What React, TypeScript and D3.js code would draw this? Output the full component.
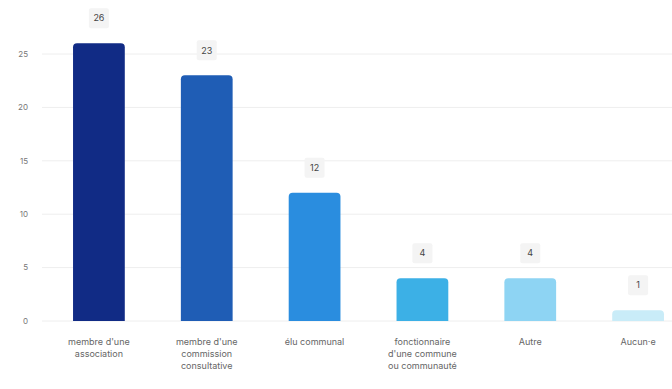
import React from "react";
import * as d3 from "d3";

const categories: string[][] = [
  ["membre d'une", "association"],
  ["membre d'une", "commission", "consultative"],
  ["élu communal"],
  ["fonctionnaire", "d'une commune", "ou communauté"],
  ["Autre"],
  ["Aucun·e"],
];
const values: number[] = [26, 23, 12, 4, 4, 1];
const colors: string[] = ["#112b85", "#1f5db5", "#2a8ddf", "#3cb0e6", "#8ed4f3", "#c9ecf8"];
const yTicks: number[] = [0, 5, 10, 15, 20, 25];

const W = 672;
const H = 389;

export default function App() {
  const x = d3
    .scaleBand<number>()
    .domain(values.map((_, i) => i))
    .range([45, 692])
    .paddingInner(0.52)
    .paddingOuter(0.26);
  const y = d3.scaleLinear().domain([0, 25]).range([321, 54]);
  const bw = x.bandwidth();

  return (
    <svg
      width={W}
      height={H}
      style={{ position: "absolute", left: 0, top: 0, fontFamily: "Inter, 'Noto Sans', sans-serif" }}
    >
      <rect width={W} height={H} fill="#ffffff" />
      {yTicks.map((t) => (
        <g key={t}>
          <line x1={42} x2={W} y1={y(t)} y2={y(t)} stroke="#eeeeee" strokeWidth={1} />
          <text x={28} y={y(t)} dy="0.35em" textAnchor="end" fontSize={8} fill="#777">
            {t}
          </text>
        </g>
      ))}
      {values.map((v, i) => {
        const x0 = x(i)!;
        const yt = y(v);
        const h = y(0) - yt;
        const r = Math.min(4, h);
        const path = `M${x0},${y(0)} L${x0},${yt + r} Q${x0},${yt} ${x0 + r},${yt} L${x0 + bw - r},${yt} Q${x0 + bw},${yt} ${x0 + bw},${yt + r} L${x0 + bw},${y(0)} Z`;
        const cx = x0 + bw / 2;
        return (
          <g key={i}>
            <path d={path} fill={colors[i]} />
            <rect x={cx - 10} y={yt - 35} width={20} height={20} fill="#f4f4f4" rx={2} />
            <text x={cx} y={yt - 25} dy="0.35em" textAnchor="middle" fontSize={9} fill="#444">
              {v}
            </text>
            <text x={cx} y={345} textAnchor="middle" fontSize={9} fill="#666">
              {categories[i].map((line, j) => (
                <tspan key={j} x={cx} dy={j === 0 ? 0 : 12}>
                  {line}
                </tspan>
              ))}
            </text>
          </g>
        );
      })}
    </svg>
  );
}
